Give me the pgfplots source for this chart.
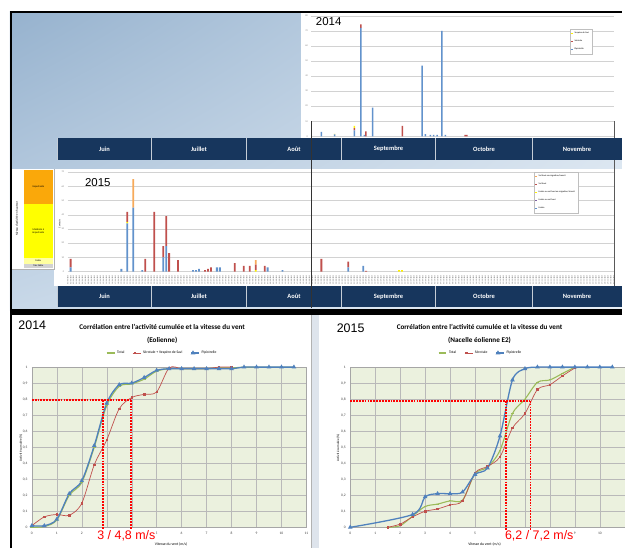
\documentclass[border=0pt]{standalone}
\usepackage{fontspec}
\setmainfont{Carlito}
\newfontfamily\arialf{Liberation Sans}
\usepackage{pgfplots}
\pgfplotsset{compat=1.18}
\usepackage{pgfplotstable}
\usepgfplotslibrary{dateplot}
\usetikzlibrary{shadings}

\definecolor{navy}{RGB}{23,54,93}
\definecolor{xlblue}{RGB}{79,129,189}
\definecolor{barblue}{RGB}{98,146,204}
\definecolor{xlred}{RGB}{192,80,77}
\definecolor{xlgreen}{RGB}{155,187,89}
\definecolor{xlpurple}{RGB}{128,100,162}
\definecolor{xlorange}{RGB}{247,170,90}
\definecolor{plotbg}{RGB}{235,241,222}
\definecolor{skyUL}{RGB}{150,178,206}
\definecolor{skyUR}{RGB}{208,222,236}
\definecolor{skyLL}{RGB}{200,216,232}
\definecolor{skyLR}{RGB}{232,239,246}
\definecolor{strip}{RGB}{222,228,236}
\definecolor{scaleorange}{RGB}{250,168,10}
\definecolor{scaleyellow}{RGB}{255,255,0}
\definecolor{scalepale}{RGB}{255,255,160}
\definecolor{scalegrey}{RGB}{210,210,210}

% 2014 : contacts par nuit (Pipistrelle, Sérotule, Vespère de Savi)
\pgfplotstableread{
date        pip   sero  vesp
2014-06-07  3     0     0
2014-06-15  1.3   0     0.3
2014-06-27  4     1.5   1.5
2014-07-01  72    2.4   0
2014-07-03  1     0     0
2014-07-04  0     3.3   0
2014-07-08  19    0     0
2014-07-26  0     7     0
2014-08-07  47    0     0
2014-08-09  1.5   0     0
2014-08-12  1     0     0
2014-08-14  1     0     0
2014-08-16  1     0     0
2014-08-19  70    0     0
2014-08-21  1     0     0
2014-09-02  0     1     0
2014-09-03  0     1     0
}\dataA

% 2015 : contacts par nuit selon le type de vol
\pgfplotstableread{
date        lis  lisvh  lismig  vh   vhmig
2015-06-02  3    0      0       6    0
2015-06-19  2    0      0       0    0
2015-06-21  34   0      1       7    0
2015-06-23  45   0      0       0    20
2015-06-26  1    0      0       0    0
2015-06-27  0    0      0       9    0
2015-06-30  0    0      0       42   0
2015-07-03  10   0      0       8    0
2015-07-04  18   0      0       21   0
2015-07-05  0    0      0       13   0
2015-07-08  0    0      0       8    0
2015-07-13  1    0      0       0    0
2015-07-14  1    0      0       0    0
2015-07-15  2    0      0       0    0
2015-07-17  0    0      0       1    0
2015-07-18  0    0      0       2    0
2015-07-19  0    0      0       3    0
2015-07-21  3    0      0       0    0
2015-07-22  3    0      0       0    0
2015-07-27  0    0      0       6    0
2015-07-30  0    0      0       4    0
2015-08-01  0    0      0       4    0
2015-08-03  0    0      1       4    3
2015-08-06  0    0      0       4    0
2015-08-07  3    0      0       0    0
2015-08-12  1    0      0       0    0
2015-08-25  0    0      0       9    0
2015-09-03  3    0      0       4    0
2015-09-08  4    0      0       0    0
2015-09-09  0    0      0       0.5  0
2015-09-20  0    0      1       0    0
2015-09-21  0    0      1       0    0
}\dataB

\pgfplotsset{
  corr/.style={
    anchor=south west, scale only axis, width=276pt, height=161pt,
    xmin=0, xmax=11, ymin=0, ymax=1,
    ytick={0,0.1,...,1.01},
    axis background/.style={fill=plotbg},
    grid=major, grid style={gray!55, line width=0.35pt},
    axis line style={gray!70, line width=0.4pt},
    major tick length=0pt, clip=false,
    tick label style={font=\fontsize{3.6}{4}\selectfont, text=black!75},
    /pgf/number format/assume math mode=true,
    /pgf/number format/use comma,
    xticklabel style={yshift=-1pt}, yticklabel style={xshift=-1pt},
    legend style={at={(0.475,1)}, anchor=south, yshift=8pt, draw=none, fill=none,
      legend columns=-1, font=\fontsize{3.7}{4}\selectfont,
      /tikz/every even column/.append style={column sep=6pt}},
    legend image code/.code={\draw[##1] (0pt,0pt) -- (4pt,0pt) plot coordinates {(2pt,0pt)} -- (8pt,0pt);},
  },
  tot/.style={xlgreen, line width=1.1pt, smooth, mark=-, mark size=1.4pt},
  ser/.style={xlred, line width=0.7pt, smooth, mark=square*, mark size=0.75pt},
  pip/.style={xlblue, line width=1.3pt, smooth, mark=triangle*, mark size=1.4pt},
  guide/.style={red, line width=1.7pt, dash pattern=on 1.8pt off 1.1pt},
  barleg/.style={legend image code/.code={\fill[##1] (0pt,-0.7pt) rectangle (1.4pt,0.7pt);}},
}

\begin{document}
\begin{tikzpicture}
\begin{scope}[x=1pt,y=-1pt]
  \useasboundingbox (0,0) rectangle (625,551);
  \fill[white] (0,0) rectangle (625,551);
  \shade[upper left=skyUL, upper right=skyUR, lower left=skyLL, lower right=skyLR] (10,12) rectangle (625,312);
  \fill[white] (303,12) rectangle (625,139);
  \node[font=\arialf\fontsize{11.5}{12}\selectfont, anchor=west] at (314,22) {2014};
\end{scope}

% ---- 2014, barres empilées
\begin{axis}[at={(313pt,-137pt)}, anchor=south west, scale only axis,
  width=304pt, height=121pt,
  date coordinates in=x, xmin=2014-06-01, xmax=2014-12-01, xtick=\empty,
  ymin=0, ymax=80, ytick distance=10, ymajorgrids,
  grid style={gray!35, line width=0.3pt},
  axis line style={draw=none}, major tick length=0pt,
  yticklabel style={font=\fontsize{2.4}{3}\selectfont, text=gray},
  /pgf/number format/assume math mode=true,
  ybar stacked, bar width=1.5pt,
  reverse legend, barleg,
  legend style={at={(0.855,0.893)}, anchor=north west, draw=gray!50, line width=0.3pt,
    font=\fontsize{2.3}{2.8}\selectfont, inner sep=1pt, row sep=1pt},
  legend cell align=left,
]
  \addplot[fill=barblue, draw=none] table[x=date, y=pip] {\dataA};
  \addlegendentry{Pipistrelle}
  \addplot[fill=xlred, draw=none] table[x=date, y=sero] {\dataA};
  \addlegendentry{Sérotule}
  \addplot[fill=yellow, draw=none] table[x=date, y=vesp] {\dataA};
  \addlegendentry{Vespère de Savi}
\end{axis}

\begin{scope}[x=1pt,y=-1pt]
  \fill[white] (54,170) rectangle (625,287);
  \fill[white] (12,170) rectangle (54,271);
  \fill[scaleorange] (24,171) rectangle (53,205);
  \fill[scaleyellow] (24,205) rectangle (53,259);
  \fill[scalepale] (24,259) rectangle (53,265);
  \fill[scalegrey] (24,265) rectangle (53,269);
  \draw[gray!60, line width=0.3pt] (12,271) -- (54,271) (54,170) -- (54,271);
  \node[font=\fontsize{2.6}{3}\selectfont] at (38.5,188) {Importante};
  \node[font=\fontsize{2.6}{3}\selectfont, align=center] at (38.5,232) {Modérée à\\importante};
  \node[font=\fontsize{2.4}{3}\selectfont] at (38.5,262) {Faible};
  \node[font=\fontsize{2.4}{3}\selectfont] at (38.5,267) {Très faible};
  \node[font=\fontsize{3}{3}\selectfont, rotate=90] at (17,220) {Niveau d'activité en hauteur};
  \node[font=\fontsize{2.4}{3}\selectfont, rotate=90] at (60,225) {Contacts};
  \node[font=\arialf\fontsize{11.5}{12}\selectfont, anchor=west] at (82,183) {2015};
\end{scope}

% ---- 2015, barres empilées
\begin{axis}[at={(68pt,-273pt)}, anchor=south west, scale only axis,
  width=549pt, height=100pt,
  date coordinates in=x, xmin=2015-06-01, xmax=2015-12-01,
  xtick distance=1,
  xticklabel={\day/\month/\year},
  xticklabel style={rotate=90, anchor=east, font=\fontsize{1.9}{2}\selectfont, text=gray!70!black},
  ymin=0, ymax=70, ytick distance=10, ymajorgrids,
  grid style={gray!35, line width=0.3pt},
  axis line style={draw=none}, major tick length=0pt,
  yticklabel style={font=\fontsize{2.4}{3}\selectfont, text=gray},
  /pgf/number format/assume math mode=true,
  ybar stacked, bar width=1.8pt,
  reverse legend, barleg,
  legend style={at={(0.854,1.0)}, anchor=north west, draw=gray!50, line width=0.3pt,
    font=\fontsize{2.3}{2.8}\selectfont, inner sep=1pt, row sep=0.8pt},
  legend cell align=left,
]
  \addplot[fill=barblue, draw=none] table[x=date, y=lis] {\dataB};
  \addlegendentry{Lisière}
  \addplot[fill=xlpurple, draw=none] table[x=date, y=lisvh] {\dataB};
  \addlegendentry{Lisière ou vol haut}
  \addplot[fill=yellow, draw=none] table[x=date, y=lismig] {\dataB};
  \addlegendentry{Lisière ou vol haut en migration/transit}
  \addplot[fill=xlred, draw=none] table[x=date, y=vh] {\dataB};
  \addlegendentry{Vol haut}
  \addplot[fill=xlorange, draw=none] table[x=date, y=vhmig] {\dataB};
  \addlegendentry{Vol haut en migration/transit}
\end{axis}

\begin{scope}[x=1pt,y=-1pt]
  \draw[gray!70!black, line width=0.5pt] (617,122) -- (617,287);
  \foreach \yy in {139,287} {
    \foreach \a/\b/\t in {58/152/Juin,152/248/Juillet,248/343/Août,343/438/Septembre,438/535/Octobre,535/625/Novembre} {
      \fill[navy] (\a,\yy) rectangle (\b,\yy+22);
      \draw[white!75!navy, line width=0.6pt] (\a,\yy) -- (\a,\yy+22);
      \node[white, font=\bfseries\fontsize{6.5}{7}\selectfont] at ({(\a+\b)/2},\yy+11) {\t};
    }
  }
  \draw[black!80, line width=0.6pt] (313,122) -- (313,310);
  % bas de page
  \fill[white] (12,316) rectangle (625,551);
  \fill[strip] (313,316) rectangle (321,551);
  \draw[gray!60, line width=0.4pt] (313,316) -- (313,551);
  \fill[black] (10,311) rectangle (625,316.5);
  \draw[black, line width=2pt] (11,551) -- (11,12) -- (625,12);
  \node[font=\arialf\fontsize{12.5}{13}\selectfont, anchor=west] at (15,327) {2014};
  \node[font=\arialf\fontsize{12.5}{13}\selectfont, anchor=west] at (335,330) {2015};
  \node[font=\bfseries\fontsize{7.2}{8}\selectfont] at (163,329) {Corrélation entre l'activité cumulée et la vitesse du vent};
  \node[font=\bfseries\fontsize{7.2}{8}\selectfont] at (163,342) {(Eolienne)};
  \node[font=\bfseries\fontsize{7.2}{8}\selectfont] at (482,329) {Corrélation entre l'activité cumulée et la vitesse du vent};
  \node[font=\bfseries\fontsize{7.2}{8}\selectfont] at (482,342) {(Nacelle éolienne E2)};
  \node[font=\fontsize{3.3}{4}\selectfont, rotate=90] at (21,450) {Activité cumulée (\%)};
  \node[font=\fontsize{3.3}{4}\selectfont, rotate=90] at (340,450) {Activité cumulée (\%)};
  \node[font=\fontsize{3.8}{4}\selectfont] at (172,547.5) {Vitesse du vent (m/s)};
  \node[font=\fontsize{3.8}{4}\selectfont] at (487,547.5) {Vitesse du vent (m/s)};
\end{scope}

% ---- 2014, corrélation (les graduations 3 et 4 sont masquées par l'annotation)
\begin{axis}[corr, at={(32pt,-530pt)}, xtick={0,...,11},
  xticklabels={0,1,2,,,5,6,7,8,9,10,11}]
  \addplot[tot] coordinates {(0,0) (0.5,0.005) (1,0.045) (1.5,0.2) (2,0.28) (2.5,0.5) (3,0.76) (3.5,0.88) (4,0.895) (4.5,0.925) (5,0.975) (5.5,0.99) (6,0.99) (6.5,0.99) (7,0.99) (7.5,0.995) (8,0.995) (8.5,1) (9,1) (9.5,1) (10,1) (10.5,1)};
  \addlegendentry{Total}
  \addplot[ser] coordinates {(0,0.01) (0.5,0.065) (1,0.08) (1.5,0.075) (2,0.15) (2.5,0.39) (3,0.545) (3.5,0.74) (4,0.81) (4.5,0.83) (5,0.845) (5.5,0.995) (6,0.99) (6.5,0.99) (7,0.99) (7.5,1) (8,1)};
  \addlegendentry{Sérotule + Vespère de Savi}
  \addplot[pip] coordinates {(0,0.01) (0.5,0.01) (1,0.05) (1.5,0.21) (2,0.29) (2.5,0.51) (3,0.775) (3.5,0.89) (4,0.9) (4.5,0.935) (5,0.98) (5.5,0.99) (6,0.99) (6.5,0.99) (7,0.99) (7.5,0.99) (8,0.99) (8.5,1) (9,1) (9.5,1) (10,1) (10.5,1)};
  \addlegendentry{Pipistrelle}
  \addplot[guide, forget plot] coordinates {(0,0.795) (3.97,0.795)};
  \addplot[guide, forget plot] coordinates {(2.84,0.795) (2.84,-0.06)};
  \addplot[guide, forget plot] coordinates {(3.97,0.795) (3.97,-0.06)};
\end{axis}

% ---- 2015, corrélation (graduations 6 à 8 masquées par l'annotation)
\begin{axis}[corr, at={(352pt,-530pt)}, xtick={0,...,10},
  xticklabels={0,1,2,3,4,5,,,,9,10}]
  \addplot[tot] coordinates {(1.5,0) (2,0.01) (2.5,0.07) (3,0.13) (3.5,0.145) (4,0.165) (4.5,0.17) (5,0.335) (5.5,0.375) (6,0.48) (6.5,0.71) (7,0.8) (7.5,0.905) (8,0.92) (8.5,0.96) (9,1)};
  \addlegendentry{Total}
  \addplot[ser] coordinates {(1.5,0) (2,0.02) (2.5,0.065) (3,0.1) (3.5,0.115) (4,0.14) (4.5,0.165) (5,0.34) (5.5,0.38) (6,0.44) (6.5,0.62) (7,0.71) (7.5,0.86) (8,0.89) (8.5,0.945) (9,0.995)};
  \addlegendentry{Sérotule}
  \addplot[pip] coordinates {(0,0) (2.5,0.08) (3,0.19) (3.5,0.21) (4,0.21) (4.5,0.22) (5,0.33) (5.5,0.37) (6,0.57) (6.5,0.92) (7,0.99) (7.5,1) (8,1) (8.5,1) (9,1) (9.5,1) (10,1) (10.5,1)};
  \addlegendentry{Pipistrelle}
  \addplot[guide, forget plot] coordinates {(0,0.79) (7.22,0.79)};
  \addplot[guide, forget plot] coordinates {(6.25,0.79) (6.25,-0.06)};
  \addplot[guide, forget plot] coordinates {(7.22,0.79) (7.22,-0.06)};
\end{axis}

\begin{scope}[x=1pt,y=-1pt]
  \node[red, fill=white, inner sep=0.4pt, font=\arialf\fontsize{12.5}{13}\selectfont] at (127,538.5) {3 / 4,8 m/s};
  \node[red, fill=white, inner sep=0.4pt, font=\arialf\fontsize{12.5}{13}\selectfont] at (542,538.5) {6,2 / 7,2 m/s};
\end{scope}
\end{tikzpicture}
\end{document}
